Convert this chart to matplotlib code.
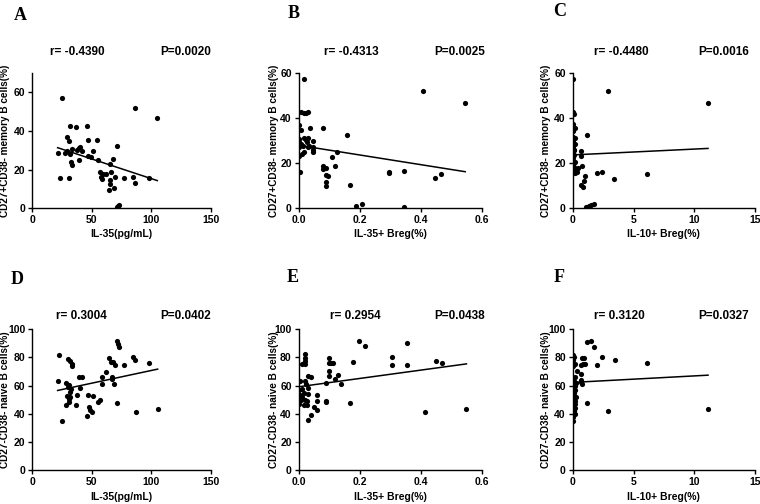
import matplotlib
matplotlib.use("Agg")
import matplotlib.pyplot as plt
import numpy as np

plt.rcParams["font.family"] = ["Liberation Sans", "DejaVu Sans"]
plt.rcParams["font.weight"] = "bold"

# panel A / D: IL-35 (pg/mL)
il35_mem = [25.3, 86.6, 105.1, 31.7, 36.8, 45.7, 29.5, 30.6, 47.1, 54.7, 70.9, 21.3, 27.8,
            28.9, 31.4, 33.1, 37.3, 39.3, 40.1, 41.8, 51.3, 46.6, 49.4, 39.5, 32.8, 33.4,
            55.0, 68.2, 65.3, 56.7, 59.2, 62.0, 66.5, 58.1, 58.9, 69.8, 65.3, 65.3, 64.2,
            68.7, 23.0, 30.6, 77.4, 85.0, 86.6, 97.9, 71.0, 71.8, 72.5]
mem_a = [56.9, 51.6, 46.4, 42.3, 41.8, 42.5, 36.8, 34.6, 35.4, 35.4, 32.0, 28.6, 28.6,
         29.7, 28.1, 30.6, 30.1, 31.0, 31.5, 29.7, 29.7, 27.1, 26.6, 24.9, 23.7, 22.5,
         25.1, 25.2, 22.7, 18.8, 17.6, 17.6, 18.8, 16.3, 14.9, 16.2, 14.8, 12.6, 9.4,
         10.5, 15.9, 15.9, 15.8, 16.2, 13.2, 15.4, 0.5, 1.2, 1.8]

il35_nai = [22.7, 30.3, 32.0, 33.1, 33.7, 21.3, 28.1, 30.3, 30.9, 32.8, 29.5, 30.9, 28.3,
            25.3, 39.6, 41.5, 40.1, 37.9, 36.8, 47.1, 51.3, 47.4, 48.8, 50.2, 45.7, 55.0,
            56.9, 58.9, 58.3, 62.0, 64.2, 65.9, 68.2, 69.6, 66.8, 67.3, 68.4, 71.5, 72.1,
            73.2, 71.3, 77.4, 85.0, 86.6, 97.9, 86.9, 105.4, 31.4, 32.0, 31.0]
nai_d = [81.8, 79.2, 77.5, 75.3, 73.9, 63.1, 62.2, 59.1, 60.7, 57.7, 52.7, 50.6, 46.3,
         35.2, 66.2, 66.0, 58.2, 53.5, 46.2, 53.6, 52.7, 44.6, 43.0, 41.6, 38.8, 48.6,
         49.5, 66.3, 61.4, 70.0, 79.4, 76.6, 77.1, 74.5, 66.3, 64.5, 60.9, 91.7, 89.8,
         87.5, 47.5, 74.8, 80.1, 78.0, 76.1, 41.1, 43.2, 55.5, 52.0, 48.5]

# panel B / E: IL-35+ Breg (%)
breg35_mem = [0.018, 0.406, 0.545, 0.007, 0.018, 0.024, 0.029, 0.0, 0.0075, 0.038, 0.078,
              0.157, 0.0, 0.018, 0.024, 0.032, 0.002, 0.007, 0.026, 0.034, 0.0, 0.013,
              0.048, 0.048, 0.048, 0.048, 0.017, 0.010, 0.0, 0.029, 0.005, 0.079, 0.079,
              0.088, 0.088, 0.097, 0.088, 0.088, 0.108, 0.127, 0.118, 0.168, 0.297, 0.297,
              0.346, 0.446, 0.466, 0.186, 0.207, 0.346]
mem_b = [57.1, 51.8, 46.6, 42.5, 42.2, 42.3, 42.7, 36.9, 34.6, 35.6, 35.6, 32.3, 30.8,
         31.3, 30.2, 31.0, 29.2, 28.3, 29.2, 27.7, 27.3, 27.7, 29.6, 27.1, 25.8, 24.9,
         25.1, 23.9, 23.1, 27.1, 16.1, 18.6, 17.5, 17.9, 14.9, 14.2, 11.6, 9.7, 22.8,
         25.1, 18.7, 10.5, 16.1, 15.5, 16.4, 13.3, 15.4, 1.2, 1.9, 0.4]

breg35_nai = [0.196, 0.216, 0.353, 0.304, 0.304, 0.353, 0.451, 0.469, 0.178, 0.100, 0.098,
              0.106, 0.111, 0.099, 0.099, 0.129, 0.120, 0.138, 0.089, 0.089, 0.089, 0.169,
              0.412, 0.549, 0.021, 0.021, 0.021, 0.012, 0.021, 0.032, 0.040, 0.021, 0.024,
              0.030, 0.012, 0.016, 0.030, 0.012, 0.008, 0.021, 0.026, 0.017, 0.028, 0.059,
              0.059, 0.050, 0.059, 0.040, 0.029, 0.005, 0.0, 0.003, 0.0]
nai_e = [91.5, 87.8, 90.1, 80.3, 74.9, 74.9, 77.8, 76.2, 76.9, 79.7, 76.2, 75.7, 75.7,
         70.3, 67.0, 67.8, 64.9, 61.4, 62.1, 49.4, 48.2, 47.6, 41.4, 43.3, 82.1, 79.8,
         77.8, 75.0, 75.0, 66.8, 66.3, 63.3, 60.9, 58.6, 57.4, 55.0, 53.9, 52.2, 49.9,
         49.9, 49.1, 46.4, 46.4, 53.1, 49.1, 45.0, 43.0, 39.1, 35.8, 63.0, 57.0, 53.0, 46.8]

# panel C / F: IL-10+ Breg (%)
breg10_mem = [0.0, 0.05, 0.1, 0.0, 0.05, 0.0, 0.15, 0.0, 0.0, 0.15, 0.0, 0.05, 0.15, 0.0,
              0.0, 0.1, 0.0, 0.1, 0.0, 0.05, 0.1, 0.15, 1.18, 0.66, 0.71, 0.77, 2.0, 2.38,
              3.4, 6.09, 0.98, 0.93, 0.71, 0.82, 0.3, 0.45, 0.38, 0.17, 1.09, 1.31, 1.53,
              1.73, 2.9, 11.13, 0.1, 0.2]
mem_c = [57.2, 42.8, 41.7, 37.3, 36.4, 35.4, 35.7, 34.3, 31.7, 31.3, 30.2, 29.2, 28.5, 27.7,
         26.5, 25.8, 24.6, 23.4, 22.4, 19.3, 18.4, 15.5, 32.3, 25.2, 23.0, 18.7, 15.8, 16.1,
         13.1, 15.2, 14.3, 11.9, 10.4, 9.6, 17.5, 18.0, 15.9, 15.9, 0.4, 1.0, 1.5,
         1.9, 51.8, 46.6, 26.0, 20.5]

breg10_nai = [1.18, 1.48, 1.78, 2.44, 3.45, 6.12, 2.03, 0.77, 0.93, 0.85, 1.04, 0.66, 1.2,
              2.93, 11.13, 0.38, 0.72, 0.72, 0.66, 0.77, 0.05, 0.1, 0.0, 0.15, 0.05, 0.2,
              0.0, 0.1, 0.25, 0.05, 0.15, 0.0, 0.2, 0.1, 0.05, 0.25, 0.0, 0.15, 0.1, 0.2,
              0.05, 0.0, 0.15, 0.1, 0.2, 0.05, 0.0]
nai_f = [90.8, 91.8, 87.5, 80.0, 77.9, 76.0, 74.9, 79.3, 79.3, 75.5, 75.0, 74.8, 48.0,
         41.7, 43.5, 70.4, 68.0, 64.0, 62.5, 61.2, 82.0, 80.0, 78.0, 75.0, 74.0, 66.0,
         65.0, 63.0, 62.0, 61.0, 60.0, 58.0, 57.0, 55.0, 53.0, 52.0, 50.0, 49.0, 48.0,
         47.0, 46.0, 45.0, 44.0, 42.0, 40.0, 38.0, 35.0]

stats = [("r= -0.4390", "P=0.0020"), ("r= -0.4313", "P=0.0025"), ("r= -0.4480", "P=0.0016"),
         ("r= 0.3004", "P=0.0402"), ("r= 0.2954", "P=0.0438"), ("r= 0.3120", "P=0.0327")]
letters = ["A", "B", "C", "D", "E", "F"]
xlabels = ["IL-35(pg/mL)", "IL-35+ Breg(%)", "IL-10+ Breg(%)"] * 2
ylabels = ["CD27+CD38- memory B cells(%)"] * 3 + ["CD27-CD38- naive B cells(%)"] * 3

fig = plt.figure(figsize=(7.6, 5.04), dpi=100)

lefts = [0.0425, 0.393, 0.7536]
widths = [0.2347, 0.2412, 0.2399]
bottoms = [0.5867, 0.067]
heights = [0.269, 0.2798]

panels = [(il35_mem, mem_a), (breg35_mem, mem_b), (breg10_mem, mem_c),
          (il35_nai, nai_d), (breg35_nai, nai_e), (breg10_nai, nai_f)]
xlims = [(0, 150, [0, 50, 100, 150]), (0, 0.6, [0.0, 0.2, 0.4, 0.6]), (0, 15, [0, 5, 10, 15])]
letter_pos = [(20, 15), (294, 13), (560, 12), (17, 279), (293, 278), (559, 277)]
r_x = [0.099, 0.138, 0.117, 0.133, 0.171, 0.118]
p_x = [1.0, 1.016, 0.967, 1.0, 1.016, 0.967]
ylab_x = [-0.124, -0.11, -0.121]

for i, (xs, ys) in enumerate(panels):
    row, col = divmod(i, 3)
    ax = fig.add_axes([lefts[col], bottoms[row], widths[col], heights[row]])
    xs = np.array(xs)
    ys = np.array(ys)
    ax.scatter(xs, ys, s=14, color="black", zorder=3, linewidths=0)
    k, b = np.polyfit(xs, ys, 1)
    lx = np.array([xs.min(), xs.max()])
    ax.plot(lx, k * lx + b, color="black", lw=1.1)

    x0, x1, xt = xlims[col]
    ax.set_xlim(x0, x1)
    ax.set_xticks(xt)
    if row == 0:
        if col == 0:
            ax.set_ylim(0, 70)
        else:
            ax.set_ylim(0, 60)
        ax.set_yticks([0, 20, 40, 60])
    else:
        ax.set_ylim(0, 100)
        ax.set_yticks([0, 20, 40, 60, 80, 100])
    if col == 1:
        ax.set_xticklabels(["0.0", "0.2", "0.4", "0.6"])

    for s in ["top", "right"]:
        ax.spines[s].set_visible(False)
    for s in ["left", "bottom"]:
        ax.spines[s].set_linewidth(1.0)
    ax.tick_params(direction="out", length=3, width=1, pad=2, labelsize=7.5)
    for lab in ax.get_xticklabels() + ax.get_yticklabels():
        lab.set_fontweight("bold")

    ax.set_xlabel(xlabels[i], fontsize=7.5, fontweight="bold")
    ax.xaxis.set_label_coords(0.5, -0.155)
    ax.set_ylabel(ylabels[i], fontsize=7.2, fontweight="bold")
    ax.yaxis.set_label_coords(ylab_x[col], 0.5)

    ty = 1.155 if row == 0 else 1.092
    ax.text(r_x[i], ty, stats[i][0], transform=ax.transAxes, fontsize=8.5,
            fontweight="bold", ha="left", va="center")
    ax.text(p_x[i], ty, stats[i][1], transform=ax.transAxes, fontsize=8.5,
            fontweight="bold", ha="right", va="center")

    lx_, ly_ = letter_pos[i]
    fig.text(lx_ / 760, 1 - ly_ / 504, letters[i], fontsize=13, fontweight="bold",
             family="Liberation Serif", ha="center", va="center")

fig.savefig("out.png", dpi=100)
